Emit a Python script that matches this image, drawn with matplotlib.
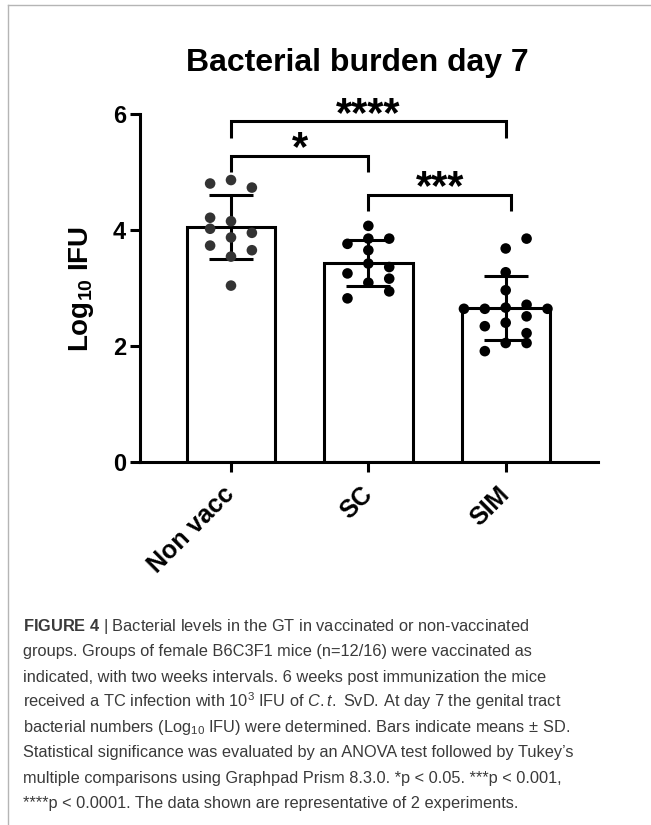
import numpy as np
import matplotlib
matplotlib.use("Agg")
import matplotlib.pyplot as plt
from matplotlib.lines import Line2D

plt.rcParams["font.family"] = ["Liberation Sans", "DejaVu Sans"]
plt.rcParams["mathtext.fontset"] = "custom"
plt.rcParams["mathtext.rm"] = "Liberation Sans"
plt.rcParams["mathtext.it"] = "Liberation Sans:italic"
plt.rcParams["mathtext.bf"] = "Liberation Sans:bold"

# data (Log10 IFU per mouse)
groups = ["Non vacc", "SC", "SIM"]
nonvacc = [4.81, 4.87, 4.74, 4.22, 4.16, 4.03, 3.96, 3.88, 3.74, 3.66, 3.55, 3.05]
sc = [4.08, 3.77, 3.86, 3.86, 3.66, 3.43, 3.37, 3.26, 3.17, 3.10, 2.95, 2.83]
sim = [3.86, 3.69, 3.28, 2.97, 2.65, 2.65, 2.67, 2.72, 2.65, 2.52, 2.35, 2.41,
       2.23, 2.06, 2.06, 1.92]

# column slot of each dot in the scatter (layout only)
nonvacc_cols = [-1, 0, 1, -1, 0, -1, 1, 0, -1, 1, 0, 0]
sc_cols = [0, -1, 0, 1, 0, 0, 1, -1, 1, 0, 1, -1]
sim_cols = [1, 0, 0, 0, -2, -1, 0, 1, 2, 1, -1, 0, 1, 0, 1, -1]

# significance brackets: (left group, right group, height, label)
sig_pairs = [(0, 2, 5.88, "****"), (0, 1, 5.28, "*"), (1, 2, 4.62, "***")]

title = "Bacterial burden day 7"
caption = [
    r"$\mathbf{FIGURE\ 4}$ | Bacterial levels in the GT in vaccinated or non-vaccinated",
    "groups. Groups of female B6C3F1 mice (n=12/16) were vaccinated as",
    "indicated, with two weeks intervals. 6 weeks post immunization the mice",
    r"received a TC infection with 10$^3$ IFU of $\mathit{C.t.}$ SvD. At day 7 the genital tract",
    r"bacterial numbers (Log$_{10}$ IFU) were determined. Bars indicate means ± SD.",
    "Statistical significance was evaluated by an ANOVA test followed by Tukey\u2019s",
    "multiple comparisons using Graphpad Prism 8.3.0. *p < 0.05. ***p < 0.001,",
    "****p < 0.0001. The data shown are representative of 2 experiments.",
]

values = [np.array(nonvacc), np.array(sc), np.array(sim)]
cols = [nonvacc_cols, sc_cols, sim_cols]
means = [v.mean() for v in values]
sds = [v.std(ddof=1) for v in values]
x = np.arange(len(groups))

W, H = 651, 825
fig = plt.figure(figsize=(W / 100, H / 100), dpi=100)
ax = fig.add_axes([140 / W, 1 - 462.5 / H, 458 / W, 348 / H])

lw = 2.2
ax.bar(x, means, width=0.643, color="white", edgecolor="black", linewidth=lw, zorder=1)
ax.errorbar(x, means, yerr=sds, fmt="none", ecolor="black", elinewidth=lw,
            capsize=16, capthick=lw, zorder=2)
dot_colors = ["#333333", "black", "black"]
for i, (v, c) in enumerate(zip(values, cols)):
    ax.scatter(i + np.array(c) * 0.152, v, s=58, color=dot_colors[i],
               edgecolors="none", zorder=3)

# significance brackets
drop = 0.28
for a, b, yb, lab in sig_pairs:
    xb = b + (0.04 if lab == "***" else 0.0)
    ax.plot([a, a, xb, xb], [yb - drop, yb, yb, yb - drop], color="black",
            lw=lw, solid_capstyle="butt", solid_joinstyle="miter", clip_on=False)
    ax.annotate(lab, xy=((a + xb) / 2, yb), xytext=(0, -3), textcoords="offset points",
                ha="center", va="baseline", fontsize=30, fontweight="bold",
                annotation_clip=False)

ax.set_xlim(-0.6625, 2.672)
ax.set_ylim(0, 6)
ax.set_yticks([0, 2, 4, 6])
ax.set_xticks(x)
ax.set_xticklabels(groups, rotation=45, ha="right", va="center",
                   rotation_mode="anchor", fontsize=18, fontweight="bold")
for t in ax.get_yticklabels():
    t.set_fontweight("bold")
ax.tick_params(axis="y", labelsize=17, width=lw, length=7, pad=3)
ax.tick_params(axis="x", width=lw, length=7, pad=13)
for s in ["top", "right"]:
    ax.spines[s].set_visible(False)
for s in ["left", "bottom"]:
    ax.spines[s].set_linewidth(lw)
ax.set_ylabel(r"Log$_{\mathbf{10}}$ IFU", fontsize=20, fontweight="bold", va="center")
ax.yaxis.set_label_coords(-0.128, 0.5)

fig.text(357 / W, 1 - 63 / H, title, ha="center", va="center", fontsize=23,
         fontweight="bold")

# caption
for k, line in enumerate(caption):
    fig.text(23 / W, 1 - (631 + 25.3 * k) / H, line, ha="left", va="baseline",
             fontsize=11.8, color="#3a3a3a")

# grey frame of the figure panel
fig.add_artist(Line2D([8 / W, 1], [1 - 5 / H, 1 - 5 / H], color="#b5b5b5", lw=1))
fig.add_artist(Line2D([8 / W, 8 / W], [0, 1 - 5 / H], color="#b5b5b5", lw=1))

fig.savefig("out.png", dpi=100)
